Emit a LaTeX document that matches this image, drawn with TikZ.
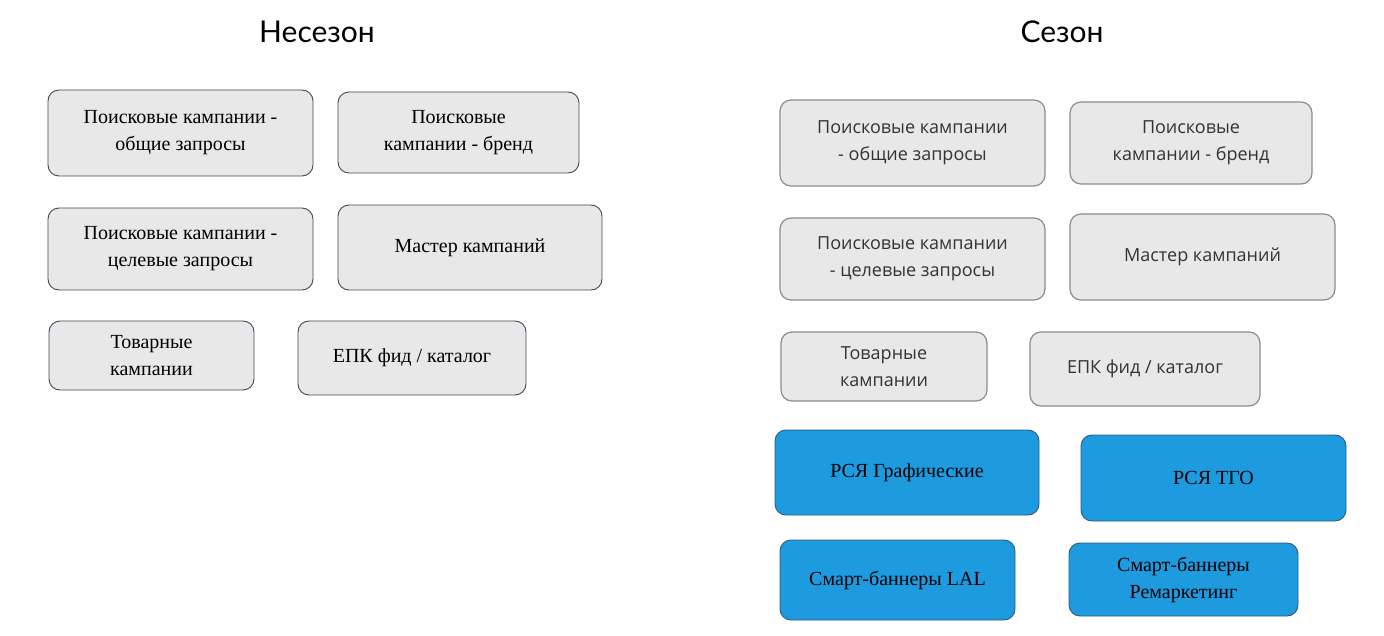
\documentclass[tikz,border=0pt]{standalone}
\usepackage{fontspec}
\setmainfont{Liberation Serif}
\newfontfamily\rsans{Open Sans}
\newfontfamily\tsans{Lato}
\definecolor{boxfill}{HTML}{E8E8E8}
\definecolor{lborder}{HTML}{3E4A5A}
\definecolor{rborder}{HTML}{8C8C8C}
\definecolor{bfill}{HTML}{1E9BDF}
\definecolor{bborder}{HTML}{2A5A80}
\begin{document}
\begin{tikzpicture}[x=1pt,y=-1pt,
  lbox/.style={draw=lborder,line width=0.9pt,fill=boxfill,rounded corners=11pt,align=center,font=\fontsize{20}{27}\selectfont},
  rbox/.style={draw=rborder,line width=1.2pt,fill=boxfill,rounded corners=11pt,align=center,font=\rsans\fontsize{18}{27}\selectfont,text=black!80},
  bbox/.style={draw=bborder,line width=0.9pt,fill=bfill,rounded corners=11pt,align=center,font=\fontsize{20}{27}\selectfont},
  ttl/.style={font=\tsans\fontsize{30}{36}\selectfont}]
\useasboundingbox (0,0) rectangle (1384,636);
\node[ttl] (t1) at (317,32) {Несезон};
\node[ttl] (t2) at (1062,32) {Сезон};
\newcommand\bx[6]{\draw[#1] (#2,#3) rectangle (#4,#5) node[midway,#1,draw=none,fill=none] {#6};}
\bx{lbox}{48}{90}{313}{176}{Поисковые кампании -\\общие запросы}
\bx{lbox}{338}{92}{579}{173}{Поисковые\\кампании - бренд}
\bx{lbox}{48}{208}{313}{290}{Поисковые кампании -\\целевые запросы}
\bx{lbox}{338}{205}{602}{290}{Мастер кампаний}
\bx{lbox}{49}{321}{254}{390}{Товарные\\кампании}
\bx{lbox}{298}{321}{526}{395}{ЕПК фид / каталог}
\bx{rbox}{780}{100}{1045}{186}{Поисковые кампании\\- общие запросы}
\bx{rbox}{1070}{102}{1312}{184}{Поисковые\\кампании - бренд}
\bx{rbox}{780}{218}{1045}{300}{Поисковые кампании\\- целевые запросы}
\bx{rbox}{1070}{214}{1335}{300}{Мастер кампаний}
\bx{rbox}{781}{332}{987}{401}{Товарные\\кампании}
\bx{rbox}{1030}{332}{1260}{406}{ЕПК фид / каталог}
\bx{bbox}{775}{430}{1039}{515}{РСЯ Графические}
\bx{bbox}{1081}{435}{1346}{521}{РСЯ ТГО}
\bx{bbox}{780}{540}{1015}{620}{Смарт-баннеры LAL}
\bx{bbox}{1069}{543}{1298}{616}{Смарт-баннеры\\Ремаркетинг}
\end{tikzpicture}
\end{document}
